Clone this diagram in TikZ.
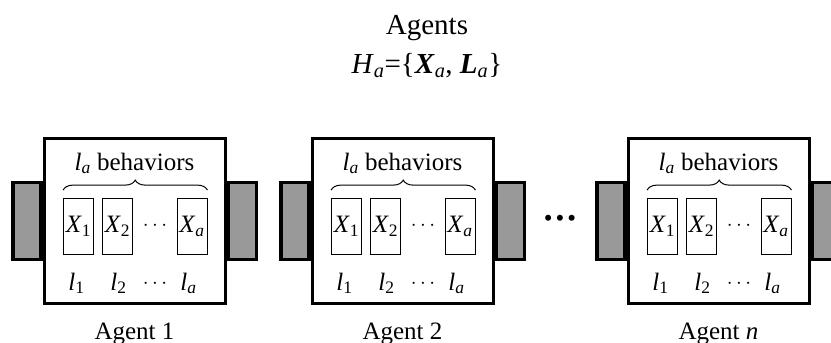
\documentclass[tikz,border=0pt]{standalone}
\usepackage{fontspec}
\setmainfont{Liberation Serif}
\usetikzlibrary{positioning, decorations.pathreplacing}
\definecolor{portgray}{HTML}{999999}
\newcommand{\isub}[2]{\textit{#1}\textsubscript{#2}}

\begin{document}
\begin{tikzpicture}[x=1pt, y=-1pt,
    font=\fontsize{25}{30}\selectfont,
    agentnode/.style={rectangle, draw=black, line width=3pt, fill=white, minimum width=181pt, minimum height=165pt, inner sep=0pt},
    portnode/.style={rectangle, draw=black, line width=3.3pt, fill=portgray, minimum width=28pt, minimum height=77pt, inner sep=0pt},
    behavnode/.style={rectangle, draw=black, line width=0.8pt, minimum width=30pt, minimum height=56pt, inner sep=0pt},
    textnode/.style={inner sep=0pt, anchor=base},
    titlenode/.style={inner sep=0pt, font=\fontsize{29}{34}\selectfont},
    bracepath/.style={decorate, decoration={brace, amplitude=10pt}, line width=1pt},
    ]
    \useasboundingbox (0,0) rectangle (831,343);

    %Title
    \node[titlenode] (title) at (427,28) {Agents};
    \node[titlenode] (hset)  at (427,66) {\isub{H}{\textit{a}}=\{\isub{\textbf{\textit{X}}}{\textit{a}}, \isub{\textbf{\textit{L}}}{\textit{a}}\}};

    %Agents
    \foreach \i/\x/\name in {1/134.5/1, 2/402.5/2, 3/718.5/\textit{n}} {
      \node[agentnode] (a\i) at (\x,221) {};
      \node[portnode]  (pl\i) [left=0pt of a\i] {};
      \node[portnode]  (pr\i) [right=0pt of a\i] {};
      \node[behavnode] (x\i1) at (\x-56,226.5) {\isub{X}{1}};
      \node[behavnode] (x\i2) at (\x-17,226.5) {\isub{X}{2}};
      \node[inner sep=0pt, font=\fontsize{22}{24}\selectfont] (xd\i) at (\x+20.5,226) {$\cdots$};
      \node[behavnode] (x\i3) at (\x+57.5,226.5) {\isub{X}{\textit{a}}};
      \draw[bracepath] ([yshift=8pt]x\i1.north west) -- ([yshift=8pt]x\i3.north east);
      \node[textnode] (beh\i) at (\x,170) {\isub{l}{\textit{a}} behaviors};
      \node[textnode] (l\i1) at (\x-58,290) {\isub{l}{1}};
      \node[textnode] (l\i2) at (\x-16,290) {\isub{l}{2}};
      \node[inner sep=0pt, font=\fontsize{22}{24}\selectfont] (ld\i) at (\x+20.5,284) {$\cdots$};
      \node[textnode] (l\i3) at (\x+54,290) {\isub{l}{\textit{a}}};
      \node[textnode] (lab\i) at (\x,339) {Agent \name};
    }

    %Gap
    \node[inner sep=0pt] (gap) at (560,221) {\textbullet\hspace{3pt}\textbullet\hspace{3pt}\textbullet};
\end{tikzpicture}
\end{document}
